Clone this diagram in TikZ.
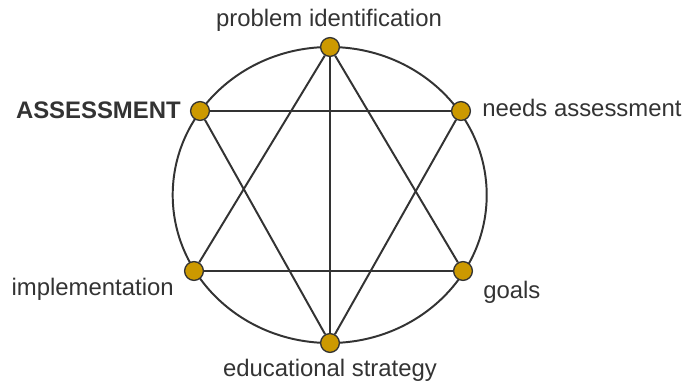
\documentclass[tikz,border=0pt]{standalone}
\usepackage{fontspec}
\setmainfont{Liberation Sans}
\definecolor{gold}{HTML}{CC9900}
\definecolor{ink}{HTML}{333333}
\tikzset{
  stage/.style={circle, draw=ink, fill=gold, line width=0.95pt, minimum size=0.47cm, inner sep=0pt},
  lbl/.style={text=ink, inner sep=0pt, font=\fontsize{17}{20}\selectfont},
  link/.style={draw=ink, line width=1.4pt}
}
\begin{document}
\begin{tikzpicture}[x=0.025cm, y=-0.025cm]
\useasboundingbox (0,0) rectangle (685,382);
% cycle
\draw [link] (329.7,195) ellipse [x radius=157, y radius=148];
% stages
\node [stage] (prob) at (330,47) {};
\node [stage] (asse) at (200,111) {};
\node [stage] (need) at (461,111) {};
\node [stage] (impl) at (194,271) {};
\node [stage] (goal) at (463,271) {};
\node [stage] (edu) at (330,343) {};
% links
\draw [link] (prob) -- (impl) -- (goal) -- (prob);
\draw [link] (asse) -- (need) -- (edu) -- (asse);
\draw [link] (prob) -- (edu);
% labels
\node [lbl] (tprob) at (329,20) {problem identification};
\node [lbl, anchor=east, font=\fontsize{17}{20}\selectfont\bfseries] (tasse) at (181,110) {ASSESSMENT};
\node [lbl, anchor=west] (tneed) at (482,108) {needs assessment};
\node [lbl, anchor=east] (timpl) at (174,289) {implementation};
\node [lbl, anchor=west] (tgoal) at (483,292) {goals};
\node [lbl] (tedu) at (330,370) {educational strategy};
\end{tikzpicture}
\end{document}
